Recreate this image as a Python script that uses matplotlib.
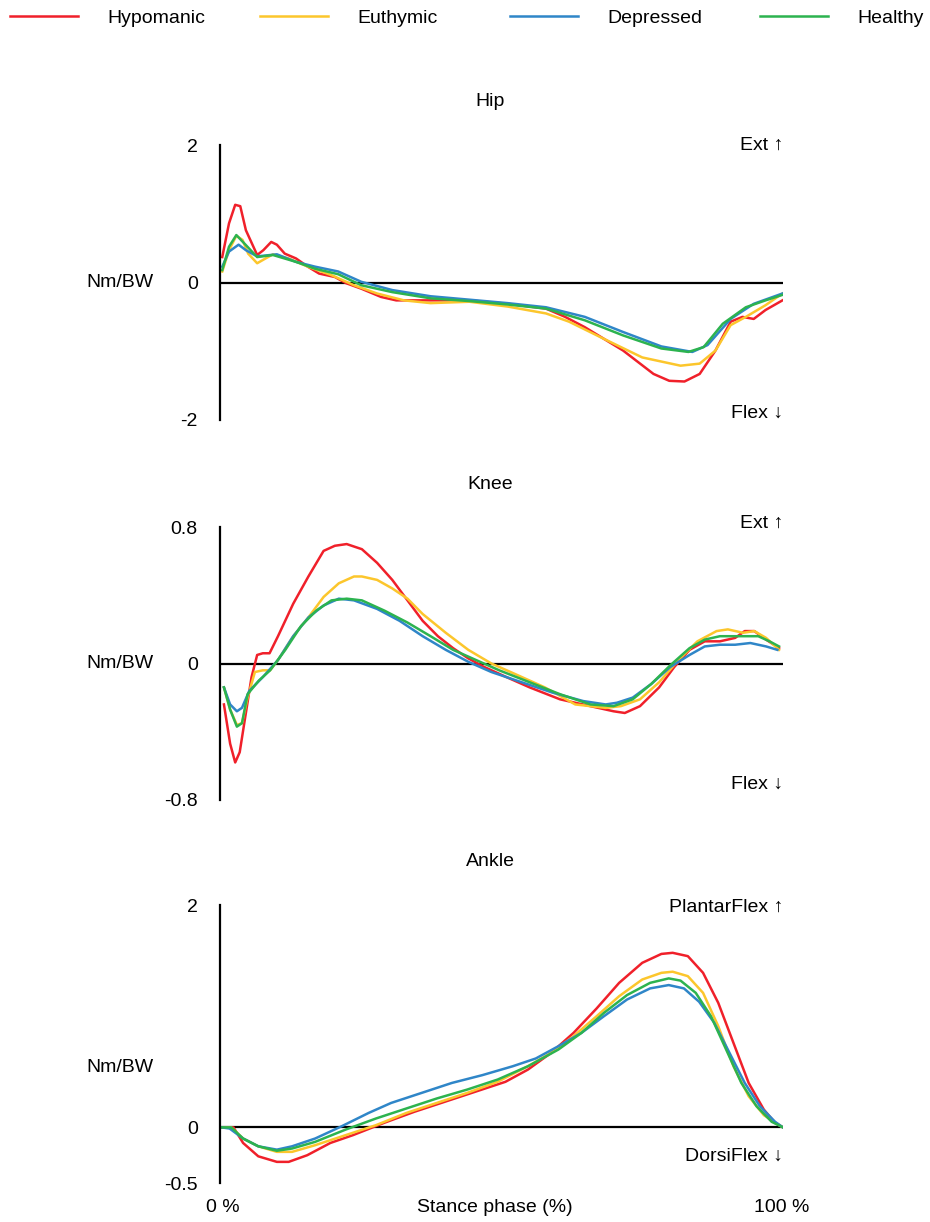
import matplotlib
matplotlib.use('Agg')
import matplotlib.pyplot as plt

plt.rcParams['font.family'] = ['Liberation Sans', 'DejaVu Sans']

groups = ['Hypomanic', 'Euthymic', 'Depressed', 'Healthy']
colors = ['#f0202a', '#fcc62c', '#2f86c8', '#2cb34f']

# Hip moment (Nm/BW) vs stance phase (%)
hip_hypo_x = [0.4, 1.6, 2.7, 3.6, 4.6, 6.6, 7.7, 9.1, 10.1, 11.5, 13.5, 15.6, 17.6, 20.4, 22.4, 25.1, 28.6, 31.3,
              37.4, 44.3, 51.1, 57.9, 61.3, 64.8, 71.6, 77.0, 79.8, 82.5, 85.2, 88.0, 90.7, 92.8, 94.8, 96.9, 99.9]
hip_hypo_y = [0.37, 0.86, 1.13, 1.11, 0.76, 0.40, 0.47, 0.59, 0.55, 0.42, 0.35, 0.23, 0.13, 0.08, -0.01, -0.09,
              -0.21, -0.26, -0.26, -0.26, -0.31, -0.38, -0.50, -0.65, -0.99, -1.33, -1.43, -1.44, -1.33, -0.99,
              -0.57, -0.50, -0.53, -0.40, -0.26]
hip_euth_x = [0.4, 1.6, 2.9, 4.0, 5.0, 6.6, 8.1, 9.4, 12.2, 15.6, 19.7, 23.8, 27.9, 32.7, 37.4, 44.3, 51.1, 57.9,
              62.0, 68.2, 75.0, 81.8, 85.2, 88.0, 90.7, 93.4, 96.9, 99.9]
hip_euth_y = [0.16, 0.47, 0.68, 0.62, 0.42, 0.28, 0.35, 0.41, 0.35, 0.23, 0.11, -0.04, -0.16, -0.26, -0.30, -0.28,
              -0.35, -0.45, -0.57, -0.82, -1.09, -1.21, -1.18, -0.99, -0.62, -0.50, -0.33, -0.16]
hip_depr_x = [0.4, 1.6, 3.3, 4.6, 6.6, 10.1, 13.5, 16.9, 21.0, 25.1, 30.6, 37.4, 44.3, 51.1, 57.9, 64.8, 71.6, 78.4,
              83.9, 86.6, 90.7, 94.8, 99.9]
hip_depr_y = [0.23, 0.45, 0.55, 0.47, 0.38, 0.41, 0.30, 0.23, 0.16, 0.01, -0.11, -0.20, -0.25, -0.30, -0.36, -0.50,
              -0.72, -0.93, -1.01, -0.91, -0.53, -0.31, -0.16]
hip_heal_x = [0.4, 1.6, 2.9, 4.3, 6.6, 9.4, 13.5, 16.9, 21.0, 25.1, 30.6, 37.4, 44.3, 51.1, 57.9, 64.8, 71.6, 78.4,
              83.2, 85.9, 89.3, 93.4, 96.9, 99.9]
hip_heal_y = [0.18, 0.52, 0.69, 0.57, 0.37, 0.40, 0.30, 0.20, 0.12, -0.04, -0.14, -0.23, -0.27, -0.32, -0.38, -0.55,
              -0.77, -0.96, -1.01, -0.94, -0.60, -0.36, -0.26, -0.18]

# Knee moment
knee_hypo_x = [0.7, 1.8, 2.7, 3.5, 4.5, 5.6, 6.6, 7.6, 8.8, 10.3, 13.0, 15.7, 18.4, 20.4, 22.5, 25.2, 27.9, 30.6,
               33.3, 36.0, 38.7, 41.4, 44.1, 46.9, 50.9, 55.0, 60.4, 65.8, 69.9, 71.9, 74.6, 78.0, 80.7, 83.4,
               86.1, 88.8, 91.5, 93.2, 94.9, 97.0, 99.3]
knee_hypo_y = [-0.24, -0.47, -0.58, -0.52, -0.31, -0.08, 0.05, 0.06, 0.06, 0.16, 0.35, 0.51, 0.66, 0.69, 0.70,
               0.67, 0.59, 0.49, 0.37, 0.25, 0.16, 0.09, 0.03, -0.02, -0.08, -0.14, -0.21, -0.25, -0.28, -0.29,
               -0.25, -0.14, -0.02, 0.08, 0.13, 0.13, 0.15, 0.19, 0.19, 0.14, 0.09]
knee_euth_x = [0.7, 1.8, 3.0, 3.9, 4.9, 6.2, 7.6, 8.9, 10.3, 13.0, 15.7, 18.4, 21.1, 23.8, 25.2, 27.9, 30.6, 33.3,
               36.0, 40.1, 44.1, 48.2, 52.3, 57.7, 63.1, 68.5, 71.2, 74.6, 78.0, 81.4, 84.8, 88.2, 90.2, 92.9,
               94.9, 97.0, 99.3]
knee_euth_y = [-0.14, -0.27, -0.36, -0.35, -0.20, -0.05, -0.04, -0.04, 0.02, 0.16, 0.27, 0.39, 0.47, 0.51, 0.51,
               0.49, 0.44, 0.38, 0.29, 0.18, 0.08, 0.00, -0.06, -0.14, -0.24, -0.26, -0.25, -0.21, -0.11, 0.02,
               0.13, 0.19, 0.20, 0.18, 0.19, 0.15, 0.08]
knee_depr_x = [0.7, 1.8, 3.0, 3.9, 5.2, 7.6, 10.3, 13.0, 15.7, 18.4, 21.1, 23.8, 27.9, 31.9, 36.0, 40.1, 44.1, 48.2,
               53.6, 59.0, 64.5, 68.5, 70.5, 73.3, 76.6, 80.0, 83.4, 86.1, 88.8, 91.5, 94.2, 97.0, 99.0]
knee_depr_y = [-0.14, -0.24, -0.28, -0.26, -0.16, -0.08, 0.02, 0.16, 0.27, 0.34, 0.38, 0.37, 0.32, 0.25, 0.16,
               0.08, 0.01, -0.05, -0.11, -0.17, -0.22, -0.24, -0.23, -0.20, -0.12, -0.02, 0.05, 0.10, 0.11, 0.11,
               0.12, 0.10, 0.08]
knee_heal_x = [0.7, 1.8, 3.0, 3.9, 4.9, 6.9, 8.9, 11.6, 14.4, 17.1, 19.8, 22.5, 25.2, 29.2, 33.3, 37.4, 41.4, 45.5,
               49.6, 55.0, 60.4, 65.8, 69.9, 73.3, 76.6, 80.0, 83.4, 86.1, 88.8, 92.9, 95.6, 97.6, 99.3]
knee_heal_y = [-0.14, -0.27, -0.37, -0.35, -0.18, -0.10, -0.04, 0.08, 0.22, 0.31, 0.37, 0.38, 0.37, 0.31, 0.24,
               0.16, 0.08, 0.02, -0.04, -0.11, -0.18, -0.24, -0.25, -0.21, -0.12, -0.01, 0.09, 0.14, 0.16, 0.16,
               0.16, 0.13, 0.10]

# Ankle moment
ankle_hypo_x = [0.3, 2.4, 4.1, 6.8, 10.1, 12.2, 15.5, 19.6, 23.6, 29.1, 34.5, 39.9, 45.3, 50.7, 54.7, 58.8, 62.8,
                66.9, 70.9, 75.0, 78.4, 80.4, 83.1, 85.8, 88.5, 91.2, 93.9, 96.6, 98.6, 100]
ankle_hypo_y = [0, 0, -0.14, -0.26, -0.31, -0.31, -0.25, -0.14, -0.07, 0.04, 0.14, 0.23, 0.32, 0.41, 0.52, 0.67,
                0.85, 1.07, 1.30, 1.48, 1.56, 1.57, 1.54, 1.39, 1.12, 0.76, 0.40, 0.16, 0.04, 0]
ankle_euth_x = [0.3, 2.0, 4.1, 6.8, 10.1, 12.8, 16.9, 22.3, 27.7, 33.1, 38.5, 43.9, 49.3, 54.7, 58.8, 62.8, 66.9,
                70.9, 75.0, 78.4, 80.4, 83.1, 85.8, 88.5, 91.2, 93.9, 96.6, 100]
ankle_euth_y = [0, 0, -0.10, -0.17, -0.22, -0.22, -0.16, -0.07, 0.02, 0.13, 0.22, 0.31, 0.41, 0.55, 0.67, 0.82,
                1.00, 1.18, 1.33, 1.39, 1.40, 1.36, 1.21, 0.91, 0.55, 0.28, 0.11, 0]
ankle_depr_x = [0.3, 1.7, 4.1, 6.8, 10.1, 12.8, 16.9, 21.6, 26.4, 30.4, 35.8, 41.2, 46.6, 52.0, 56.1, 60.1, 64.2,
                68.2, 72.3, 76.4, 79.7, 82.4, 85.1, 87.8, 90.5, 93.2, 95.9, 98.6, 100]
ankle_depr_y = [0, -0.01, -0.10, -0.17, -0.20, -0.17, -0.10, 0.01, 0.13, 0.22, 0.31, 0.40, 0.47, 0.55, 0.62, 0.73,
                0.85, 1.00, 1.15, 1.25, 1.28, 1.25, 1.13, 0.94, 0.67, 0.40, 0.19, 0.05, 0]
ankle_heal_x = [0.3, 2.0, 4.1, 6.8, 10.1, 12.8, 16.9, 22.3, 27.7, 33.1, 38.5, 43.9, 49.3, 54.7, 60.1, 64.2, 68.2,
                72.3, 76.4, 79.7, 81.8, 84.5, 87.2, 89.9, 92.6, 95.3, 98.0, 100]
ankle_heal_y = [0, 0, -0.10, -0.17, -0.21, -0.19, -0.13, -0.02, 0.08, 0.17, 0.26, 0.34, 0.43, 0.55, 0.70, 0.85,
                1.03, 1.19, 1.30, 1.34, 1.32, 1.21, 1.00, 0.70, 0.40, 0.19, 0.05, 0]

W, H = 930, 1222
fig = plt.figure(figsize=(W / 100, H / 100), dpi=100)
fs = 14


def fx(px):
    return px / W


def fy(py):
    return 1 - py / H


panels = [
    dict(title='Hip', top=145, bottom=420, ylim=(-2, 2), ticks=[2, 0, -2], labels=['2', '0', '-2'],
         series=[(hip_hypo_x, hip_hypo_y), (hip_euth_x, hip_euth_y), (hip_depr_x, hip_depr_y), (hip_heal_x, hip_heal_y)],
         up='Ext ↑', up_y=2.0, down='Flex ↓', down_y=-1.9, unit_y=0),
    dict(title='Knee', top=527, bottom=800, ylim=(-0.8, 0.8), ticks=[0.8, 0, -0.8], labels=['0.8', '0', '-0.8'],
         series=[(knee_hypo_x, knee_hypo_y), (knee_euth_x, knee_euth_y), (knee_depr_x, knee_depr_y), (knee_heal_x, knee_heal_y)],
         up='Ext ↑', up_y=0.82, down='Flex ↓', down_y=-0.71, unit_y=0),
    dict(title='Ankle', top=905, bottom=1183, ylim=(-0.5, 2), ticks=[2, 0, -0.5], labels=['2', '0', '-0.5'],
         series=[(ankle_hypo_x, ankle_hypo_y), (ankle_euth_x, ankle_euth_y), (ankle_depr_x, ankle_depr_y), (ankle_heal_x, ankle_heal_y)],
         up='PlantarFlex ↑', up_y=1.98, down='DorsiFlex ↓', down_y=-0.26, unit_y=0.54),
]

handles = []
for p in panels:
    ax = fig.add_axes([fx(220), fy(p['bottom']), fx(783 - 220), (p['bottom'] - p['top']) / H])
    ax.set_xlim(0, 100)
    ax.set_ylim(*p['ylim'])
    for s in ['top', 'right', 'bottom']:
        ax.spines[s].set_visible(False)
    ax.spines['left'].set_linewidth(1.6)
    ax.axhline(0, color='black', lw=1.6, zorder=1)
    ax.set_xticks([])
    ax.set_yticks(p['ticks'])
    ax.set_yticklabels(p['labels'], fontsize=fs)
    ax.tick_params(axis='y', length=0, pad=16)
    hs = []
    for (x, y), c, g in zip(p['series'], colors, groups):
        h, = ax.plot(x, y, color=c, lw=1.8, label=g, zorder=2)
        hs.append(h)
    handles = hs
    ax.text(-0.178, p['unit_y'], 'Nm/BW', transform=ax.get_yaxis_transform(), ha='center', va='center', fontsize=fs)
    ax.text(1.0, p['up_y'], p['up'], transform=ax.get_yaxis_transform(), ha='right', va='center', fontsize=fs)
    ax.text(1.0, p['down_y'], p['down'], transform=ax.get_yaxis_transform(), ha='right', va='center', fontsize=fs)
    fig.text(fx(490), fy(p['top'] - 43), p['title'], ha='center', va='center', fontsize=fs)

# bottom x labels
fig.text(fx(223), fy(1207), '0 %', ha='center', va='center', fontsize=fs)
fig.text(fx(495), fy(1207), 'Stance phase (%)', ha='center', va='center', fontsize=fs)
fig.text(fx(782), fy(1207), '100 %', ha='center', va='center', fontsize=fs)

# legend, one entry per slot
for i, h in enumerate(handles):
    fig.legend([h], [groups[i]], loc='center left', bbox_to_anchor=(fx(10 + 250 * i), fy(18)),
               frameon=False, fontsize=fs, handlelength=3.5, handletextpad=1.5,
               borderpad=0, borderaxespad=0)

fig.savefig('out.png', dpi=100)
